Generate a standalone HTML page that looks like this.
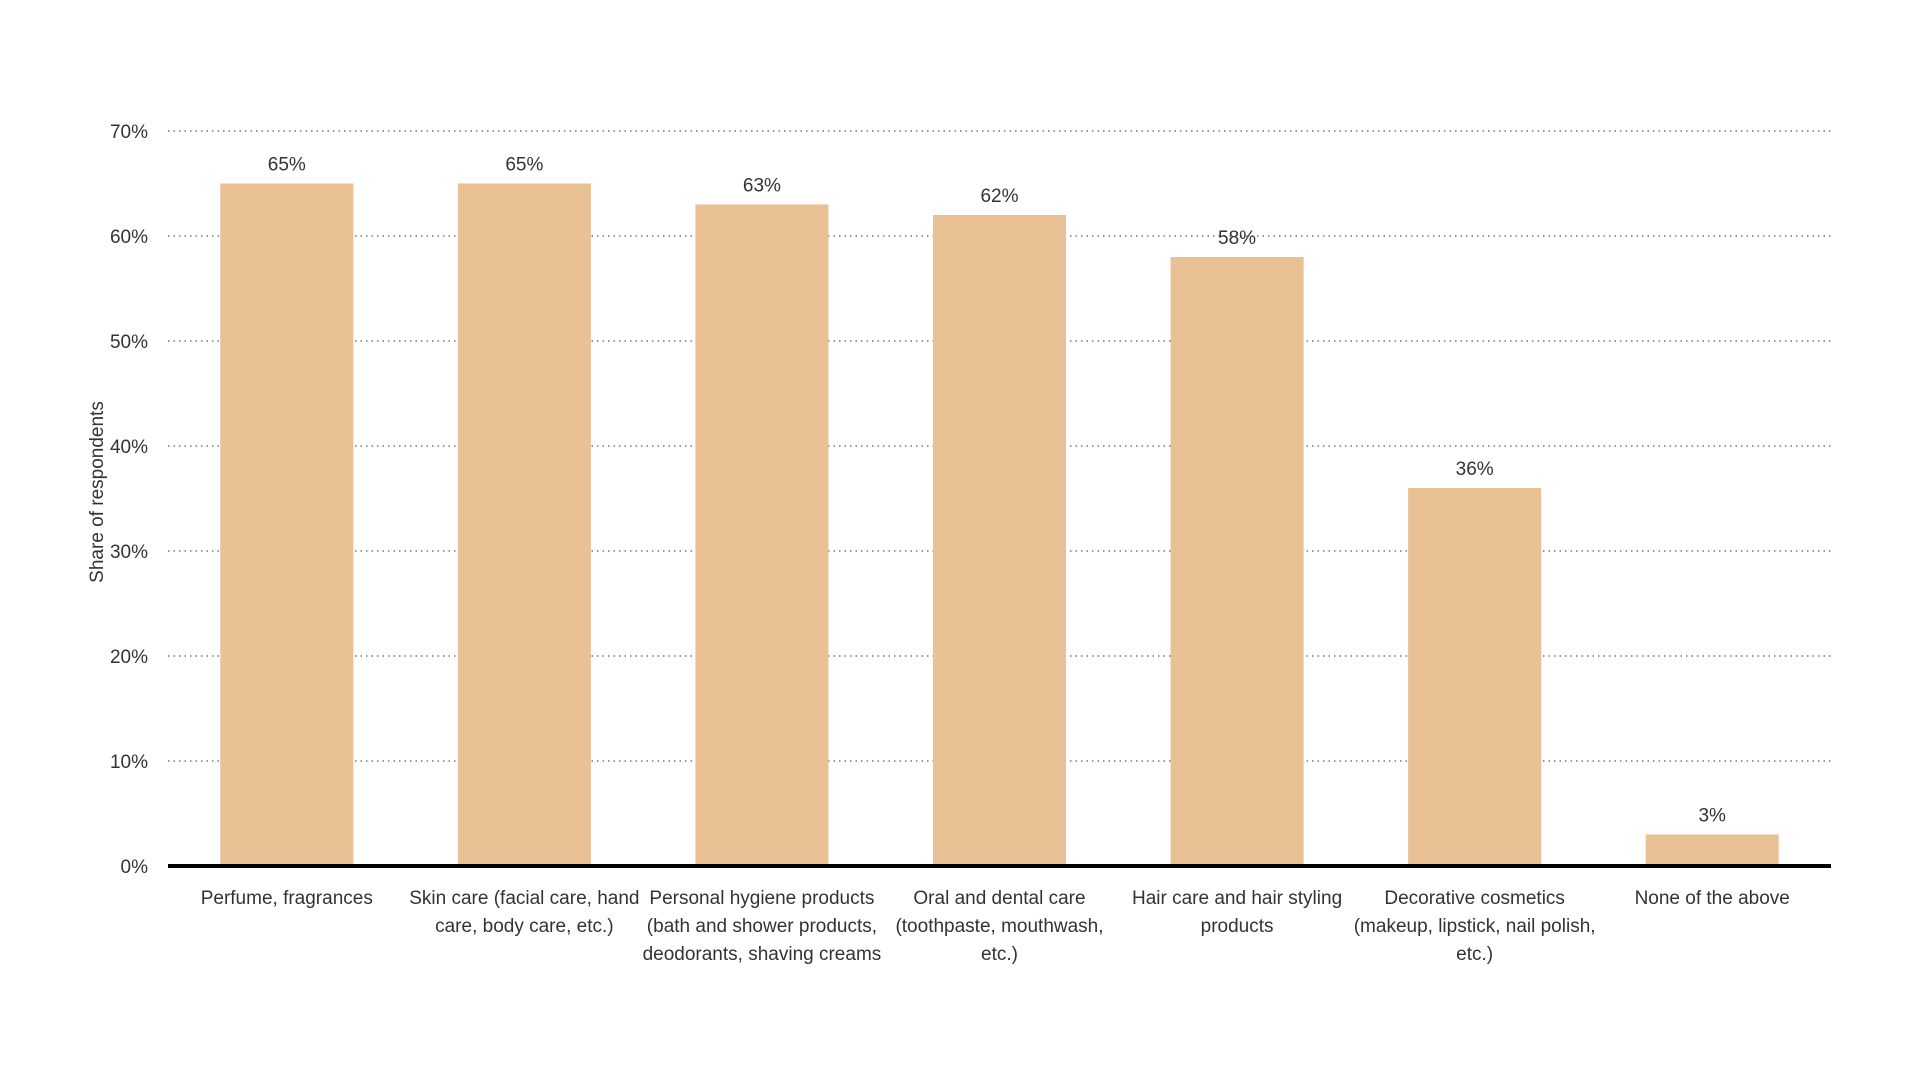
<!DOCTYPE html>
<html><head><meta charset="utf-8"><style>
html,body{margin:0;padding:0;background:#fff;width:1920px;height:1080px;overflow:hidden}
svg text{font-family:"Liberation Sans",sans-serif;fill:#333}
</style></head><body>
<svg id="chart" width="1920" height="1080" xmlns="http://www.w3.org/2000/svg"></svg>
<script>
const categories=[["Perfume, fragrances"],["Skin care (facial care, hand","care, body care, etc.)"],["Personal hygiene products","(bath and shower products,","deodorants, shaving creams"],["Oral and dental care","(toothpaste, mouthwash,","etc.)"],["Hair care and hair styling","products"],["Decorative cosmetics","(makeup, lipstick, nail polish,","etc.)"],["None of the above"]];
const values=[65,65,63,62,58,36,3];
const yTicks=[0,10,20,30,40,50,60,70];
const svg=document.getElementById('chart');
const NS='http://www.w3.org/2000/svg';
const x0=168,x1=1831,yBase=866,yTop=131,yMax=70;
const y=v=>yBase-(v/yMax)*(yBase-yTop);
const band=(x1-x0)/categories.length;
const xc=i=>x0+band*(i+0.5);
function mk(tag,attrs){const e=document.createElementNS(NS,tag);for(const k in attrs)e.setAttribute(k,attrs[k]);svg.appendChild(e);return e;}
yTicks.forEach(t=>{
  if(t>0){const g=mk('line',{x1:x0,x2:x1,y1:y(t),y2:y(t),stroke:'#777','stroke-width':1.5,'stroke-dasharray':'1.5 4'});
  
  }
  const l=mk('text',{x:148,y:y(t)+7,'text-anchor':'end','font-size':19});
  l.textContent=t+'%';
  
  
});
values.forEach((v,i)=>{
  const w=band*0.56;
  const r=mk('rect',{x:xc(i)-w/2,y:y(v),width:w,height:yBase-y(v),fill:'#e9c194'});
  
  
  const t=mk('text',{x:xc(i),y:y(v)-13,'text-anchor':'middle','font-size':19});
  t.textContent=v+'%';
  
  
  categories[i].forEach((line,j)=>{
    const c=mk('text',{x:xc(i),y:904+j*28,'text-anchor':'middle','font-size':19});
    c.textContent=line;
    
    
  });
});
const ax=mk('line',{x1:x0,x2:x1,y1:yBase,y2:yBase,stroke:'#000','stroke-width':4});


const yt=mk('text',{x:0,y:0,'text-anchor':'middle','font-size':19,transform:'translate(103,492) rotate(-90)'});
yt.textContent='Share of respondents';


</script>
</body></html>
